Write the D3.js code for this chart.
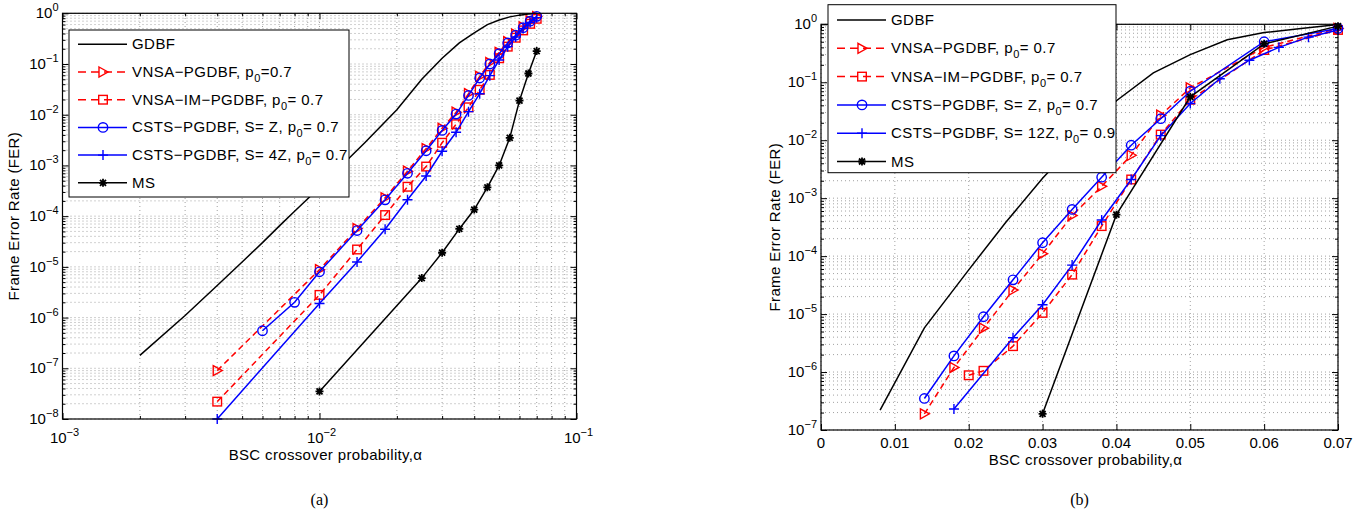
<!DOCTYPE html>
<html>
<head>
<meta charset="utf-8">
<script src="https://cdn.jsdelivr.net/npm/d3@7"></script>
<style>
body { margin: 0; background: #fff; }
svg text { font-family: "Liberation Sans", Arial, Helvetica, sans-serif; fill: #000; }
</style>
</head>
<body>
<div id="chart"></div>
<script>
// ---- panel (a): log-log ----
let aGdbfA = [0.002,0.003,0.004,0.005,0.006,0.007,0.008,0.009,0.01,0.015,0.02,0.025,0.03,0.035,0.04,0.045,0.05,0.055,0.06,0.065,0.07];
let fGdbfA = [1.8e-7,1.1e-6,4.3e-6,1.25e-5,3e-5,6.5e-5,1.25e-4,2.2e-4,3.7e-4,2.8e-3,1.25e-2,0.05,0.13,0.26,0.41,0.6,0.74,0.85,0.92,0.97,0.99];

let aVnsaA = [0.004,0.01,0.014,0.018,0.022,0.026,0.03,0.034,0.038,0.042,0.046,0.05,0.054,0.058,0.062,0.066,0.07];
let fVnsaA = [9e-8,8.8e-6,5.7e-5,2.3e-4,7.7e-4,2.15e-3,5.4e-3,1.12e-2,2.6e-2,5.7e-2,0.107,0.17,0.275,0.39,0.54,0.71,0.86];

let aImA = [0.004,0.01,0.014,0.018,0.022,0.026,0.03,0.034,0.038,0.042,0.046,0.05,0.054,0.058,0.062,0.066,0.07];
let fImA = [2.2e-8,2.8e-6,2.2e-5,1.05e-4,3.8e-4,9.5e-4,2.8e-3,6.5e-3,1.4e-2,3.1e-2,6.1e-2,0.13,0.22,0.33,0.46,0.62,0.78];

let aCstsA = [0.006,0.008,0.01,0.014,0.018,0.022,0.026,0.03,0.034,0.038,0.042,0.046,0.05,0.054,0.058,0.062,0.066,0.07];
let fCstsA = [5.5e-7,2.0e-6,8e-6,5.2e-5,2.1e-4,7e-4,1.95e-3,4.9e-3,1.03e-2,2.4e-2,5.3e-2,0.1,0.16,0.26,0.37,0.52,0.7,0.87];

let aCsts4A = [0.004,0.01,0.014,0.018,0.022,0.026,0.03,0.034,0.038,0.042,0.046,0.05,0.054,0.058,0.062,0.066,0.07];
let fCsts4A = [1e-8,1.9e-6,1.25e-5,5.5e-5,2.1e-4,6.2e-4,1.9e-3,4.5e-3,1.15e-2,2.6e-2,5.9e-2,0.12,0.22,0.34,0.5,0.66,0.82];

let aMsA = [0.01,0.025,0.03,0.035,0.04,0.045,0.05,0.055,0.06,0.065,0.07];
let fMsA = [3.5e-8,6e-6,1.9e-5,5.6e-5,1.35e-4,3.7e-4,1e-3,3.5e-3,1.9e-2,6.5e-2,0.18];

let legendA = ["GDBF", "VNSA−PGDBF, p_0=0.7", "VNSA−IM−PGDBF, p_0= 0.7", "CSTS−PGDBF, S= Z, p_0= 0.7", "CSTS−PGDBF, S= 4Z, p_0= 0.7", "MS"];
let xExpA = [-3, -2, -1];
let yExpA = [0, -1, -2, -3, -4, -5, -6, -7, -8];

// ---- panel (b): linear x, log y ----
let aGdbfB = [0.008,0.014,0.02,0.025,0.03,0.035,0.04,0.045,0.05,0.055,0.06,0.065,0.07];
let fGdbfB = [2.2e-7,5.8e-6,5.8e-5,3.8e-4,2.2e-3,1.05e-2,0.048,0.145,0.3,0.54,0.72,0.85,0.99];

let aVnsaB = [0.014,0.018,0.022,0.026,0.03,0.034,0.038,0.042,0.046,0.05,0.06,0.07];
let fVnsaB = [1.9e-7,1.2e-6,5.7e-6,2.6e-5,1.1e-4,5e-4,1.6e-3,5.5e-3,0.027,0.08,0.4,0.85];

let aImB = [0.02,0.022,0.026,0.03,0.034,0.038,0.042,0.046,0.05,0.06,0.07];
let fImB = [8.8e-7,1.05e-6,2.8e-6,1.05e-5,4.8e-5,3.3e-4,2.1e-3,0.0125,0.05,0.36,0.8];

let aCstsB = [0.014,0.018,0.022,0.026,0.03,0.034,0.038,0.042,0.046,0.05,0.06,0.07];
let fCstsB = [3.5e-7,1.9e-6,9e-6,3.9e-5,1.7e-4,6.4e-4,2.3e-3,8.2e-3,0.0235,0.07,0.5,0.85];

let aCsts12B = [0.018,0.026,0.03,0.034,0.038,0.042,0.046,0.05,0.054,0.058,0.062,0.066,0.07];
let fCsts12B = [2.3e-7,3.9e-6,1.45e-5,7e-5,4.2e-4,2.1e-3,0.012,0.043,0.115,0.24,0.4,0.6,0.8];

let aMsB = [0.03,0.04,0.05,0.06,0.07];
let fMsB = [1.9e-7,5.2e-4,0.056,0.46,0.93];

let legendB = ["GDBF", "VNSA−PGDBF, p_0= 0.7", "VNSA−IM−PGDBF, p_0= 0.7", "CSTS−PGDBF, S= Z, p_0= 0.7", "CSTS−PGDBF, S= 12Z, p_0= 0.9", "MS"];
let xTickB = [0, 0.01, 0.02, 0.03, 0.04, 0.05, 0.06, 0.07];
let xTickLabelB = ["0", "0.01", "0.02", "0.03", "0.04", "0.05", "0.06", "0.07"];
let yExpB = [0, -1, -2, -3, -4, -5, -6, -7];

let width = 1368;
let height = 515;

let svg = d3.select("#chart")
			.append("svg")
			.attr("width", width)
			.attr("height", height);

svg.append("rect")
	.attr("x", 0)
	.attr("y", 0)
	.attr("width", width)
	.attr("height", height)
	.attr("fill", "white");

let red = "#ff0000", blue = "#0000ff", black = "#000000";

function logMinors(lo, hi){
	// every k*10^d between lo and hi
	let out = [];
	for (let d = Math.floor(Math.log10(lo)); d <= Math.ceil(Math.log10(hi)); d++){
		for (let k = 1; k <= 9; k++){
			let v = k * Math.pow(10, d);
			if (v >= lo * 0.9999 && v <= hi * 1.0001) out.push(v);
		}
	}
	return out;
}

function drawMarker(g, type, cx, cy, color){
	if (type === "tri"){
		g.append("path")
			.attr("d", `M${cx-4},${cy-5}L${cx+5},${cy}L${cx-4},${cy+5}Z`)
			.attr("fill", "none").attr("stroke", color).attr("stroke-width", 1.4);
	} else if (type === "square"){
		g.append("rect")
			.attr("x", cx-4.3).attr("y", cy-4.3).attr("width", 8.6).attr("height", 8.6)
			.attr("fill", "none").attr("stroke", color).attr("stroke-width", 1.4);
	} else if (type === "circle"){
		g.append("circle")
			.attr("cx", cx).attr("cy", cy).attr("r", 4.7)
			.attr("fill", "none").attr("stroke", color).attr("stroke-width", 1.4);
	} else if (type === "plus"){
		g.append("path")
			.attr("d", `M${cx-5},${cy}H${cx+5}M${cx},${cy-5}V${cy+5}`)
			.attr("stroke", color).attr("stroke-width", 1.4);
	} else if (type === "star"){
		g.append("path")
			.attr("d", `M${cx-4},${cy}H${cx+4}M${cx},${cy-4}V${cy+4}M${cx-3},${cy-3}L${cx+3},${cy+3}M${cx-3},${cy+3}L${cx+3},${cy-3}`)
			.attr("stroke", color).attr("stroke-width", 1.8);
	}
}

function addSubText(g, x, y, str){
	// "p_0" -> p with subscript 0
	let t = g.append("text").attr("x", x).attr("y", y).attr("font-size", 15).attr("letter-spacing", 0.45);
	let parts = str.split("_");
	t.append("tspan").text(parts[0]);
	if (parts.length > 1){
		t.append("tspan").attr("dy", 5).attr("font-size", 11).text(parts[1].charAt(0));
		t.append("tspan").attr("dy", -5).text(parts[1].slice(1));
	}
}

function addPow(g, x, y, exp, anchor){
	let t = g.append("text").attr("x", x).attr("y", y).attr("font-size", 15).attr("text-anchor", anchor);
	t.append("tspan").text("10");
	t.append("tspan").attr("dy", -7).attr("font-size", 11).text(exp === 0 ? "0" : "−" + Math.abs(exp));
}

function drawPanel(p){
	let g = svg.append("g");
	let x = p.x, y = p.y;
	let [x0, x1] = x.range();
	let [y0, y1] = y.range();   // y0 bottom, y1 top

	// dotted grid
	let grid = g.append("g").attr("stroke", "#8a8a8a").attr("stroke-width", 0.8).attr("stroke-dasharray", "1,3");
	grid.selectAll(".gx").data(p.xGrid).enter().append("line")
		.attr("x1", d => x(d)).attr("x2", d => x(d)).attr("y1", y0).attr("y2", y1);
	grid.selectAll(".gy").data(p.yGrid).enter().append("line")
		.attr("x1", x0).attr("x2", x1).attr("y1", d => y(d)).attr("y2", d => y(d));

	// ticks, inward on all four sides
	let sides = [
		[d3.axisBottom(x), `translate(0,${y0})`],
		[d3.axisTop(x), `translate(0,${y1})`],
		[d3.axisLeft(y), `translate(${x0},0)`],
		[d3.axisRight(y), `translate(${x1},0)`]
	];
	sides.forEach((s, i) => {
		let major = i < 2 ? p.xMajor : p.yMajor;
		let minor = i < 2 ? p.xMinor : p.yMinor;
		let ax = g.append("g").attr("transform", s[1])
			.call(s[0].tickValues(major).tickSizeInner(-6).tickSizeOuter(0).tickFormat(""));
		ax.select(".domain").remove();
		if (minor.length){
			let axm = g.append("g").attr("transform", s[1])
				.call(s[0].tickValues(minor).tickSizeInner(-3).tickSizeOuter(0).tickFormat(""));
			axm.select(".domain").remove();
		}
	});

	// series
	p.series.forEach(s => {
		let pts = s.alpha.map((a, i) => [x(a), y(s.fer[i])]);
		g.append("path")
			.attr("d", d3.line()(pts))
			.attr("fill", "none")
			.attr("stroke", s.color)
			.attr("stroke-width", 1.5)
			.attr("stroke-dasharray", s.dash ? "6,4" : null);
		if (s.marker) pts.forEach(q => drawMarker(g, s.marker, q[0], q[1], s.color));
	});

	// box
	g.append("rect")
		.attr("x", x0).attr("y", y1).attr("width", x1 - x0).attr("height", y0 - y1)
		.attr("fill", "none").attr("stroke", black).attr("stroke-width", 1.2);

	// tick labels
	p.yMajor.forEach(v => addPow(g, x0 - 4, y(v) + 5, Math.round(Math.log10(v)), "end"));
	p.xLabels(g);

	// axis titles
	g.append("text")
		.attr("transform", `translate(${p.yTitleX},${(y0 + y1) / 2}) rotate(-90)`)
		.attr("text-anchor", "middle").attr("font-size", 15).attr("letter-spacing", 0.35)
		.text("Frame Error Rate (FER)");
	g.append("text")
		.attr("x", (x0 + x1) / 2 + 6).attr("y", p.xTitleY)
		.attr("text-anchor", "middle").attr("font-size", 15).attr("letter-spacing", 0.35)
		.text("BSC crossover probability,α");
	g.append("text")
		.attr("x", (x0 + x1) / 2).attr("y", 505)
		.attr("text-anchor", "middle").attr("font-size", 16)
		.style("font-family", "'Liberation Serif', 'Times New Roman', serif")
		.text(p.caption);

	// legend
	let L = p.legend;
	let lg = g.append("g");
	lg.append("rect")
		.attr("x", L.x).attr("y", L.y).attr("width", L.w).attr("height", L.h)
		.attr("fill", "white").attr("stroke", black).attr("stroke-width", 1);
	p.series.forEach((s, i) => {
		let ry = L.row0 + i * L.step;
		lg.append("line")
			.attr("x1", L.x + 9).attr("x2", L.x + 58).attr("y1", ry).attr("y2", ry)
			.attr("stroke", s.color).attr("stroke-width", 1.5)
			.attr("stroke-dasharray", s.dash ? "8,5" : null);
		if (s.marker) drawMarker(lg, s.marker, L.x + 34, ry, s.color);
		addSubText(lg, L.x + 63, ry + 5, p.labels[i]);
	});
}

// panel (a)
let xA = d3.scaleLog().domain([1e-3, 1e-1]).range([62.5, 576.5]);
let yA = d3.scaleLog().domain([1e-8, 1]).range([419, 13.3]);

drawPanel({
	x: xA, y: yA,
	xGrid: logMinors(1e-3, 1e-1), yGrid: logMinors(1e-8, 1),
	xMajor: xExpA.map(e => Math.pow(10, e)),
	xMinor: logMinors(1e-3, 1e-1).filter(v => xExpA.every(e => Math.abs(v / Math.pow(10, e) - 1) > 1e-6)),
	yMajor: yExpA.map(e => Math.pow(10, e)),
	yMinor: logMinors(1e-8, 1).filter(v => yExpA.every(e => Math.abs(v / Math.pow(10, e) - 1) > 1e-6)),
	xLabels: g => xExpA.forEach(e => addPow(g, xA(Math.pow(10, e)) + 2, 443, e, "middle")),
	yTitleX: 19, xTitleY: 460, caption: "(a)",
	labels: legendA,
	legend: {x: 69, y: 30, w: 280, h: 167, row0: 44.3, step: 27.7},
	series: [
		{alpha: aGdbfA, fer: fGdbfA, color: black, dash: false, marker: null},
		{alpha: aVnsaA, fer: fVnsaA, color: red, dash: true, marker: "tri"},
		{alpha: aImA, fer: fImA, color: red, dash: true, marker: "square"},
		{alpha: aCstsA, fer: fCstsA, color: blue, dash: false, marker: "circle"},
		{alpha: aCsts4A, fer: fCsts4A, color: blue, dash: false, marker: "plus"},
		{alpha: aMsA, fer: fMsA, color: black, dash: false, marker: "star"}
	]
});

// panel (b)
let xB = d3.scaleLinear().domain([0, 0.07]).range([821, 1338]);
let yB = d3.scaleLog().domain([1e-7, 1]).range([430, 24.3]);

drawPanel({
	x: xB, y: yB,
	xGrid: xTickB, yGrid: logMinors(1e-7, 1),
	xMajor: xTickB, xMinor: [],
	yMajor: yExpB.map(e => Math.pow(10, e)),
	yMinor: logMinors(1e-7, 1).filter(v => yExpB.every(e => Math.abs(v / Math.pow(10, e) - 1) > 1e-6)),
	xLabels: g => xTickB.forEach((v, i) => g.append("text")
		.attr("x", xB(v)).attr("y", 448).attr("text-anchor", "middle").attr("font-size", 15)
		.text(xTickLabelB[i])),
	yTitleX: 780, xTitleY: 465, caption: "(b)",
	labels: legendB,
	legend: {x: 828, y: 4.7, w: 288, h: 168, row0: 20, step: 28.3},
	series: [
		{alpha: aGdbfB, fer: fGdbfB, color: black, dash: false, marker: null},
		{alpha: aVnsaB, fer: fVnsaB, color: red, dash: true, marker: "tri"},
		{alpha: aImB, fer: fImB, color: red, dash: true, marker: "square"},
		{alpha: aCstsB, fer: fCstsB, color: blue, dash: false, marker: "circle"},
		{alpha: aCsts12B, fer: fCsts12B, color: blue, dash: false, marker: "plus"},
		{alpha: aMsB, fer: fMsB, color: black, dash: false, marker: "star"}
	]
});
</script>
</body>
</html>
